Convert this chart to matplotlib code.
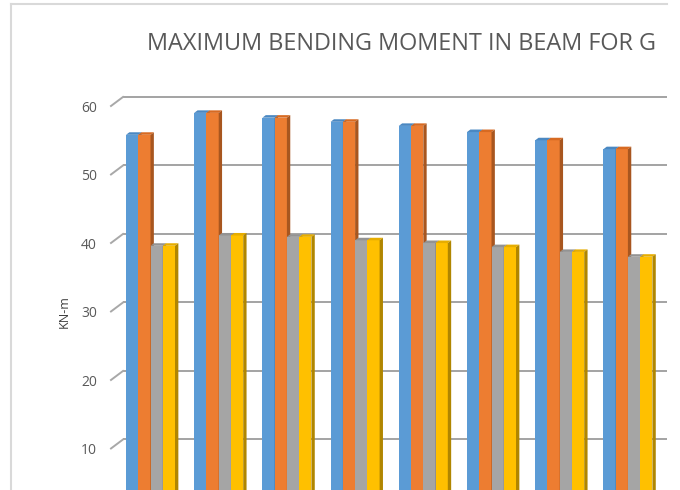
import matplotlib
matplotlib.use("Agg")
import matplotlib.pyplot as plt
import numpy as np
from matplotlib.patches import Polygon
from matplotlib.lines import Line2D

# values (KN-m), 8 visible groups, 4 series
groups = np.arange(8)
series_a = [55.3, 58.5, 57.8, 57.2, 56.6, 55.7, 54.5, 53.2]
series_b = [55.3, 58.5, 57.8, 57.2, 56.6, 55.7, 54.5, 53.2]
series_c = [39.1, 40.6, 40.4, 39.9, 39.5, 38.9, 38.2, 37.5]
series_d = [39.1, 40.6, 40.4, 39.9, 39.5, 38.9, 38.2, 37.5]
y_ticks = [10, 20, 30, 40, 50, 60]

title = "MAXIMUM BENDING MOMENT IN BEAM FOR G"
y_label = "KN-m"

# face colours: front, top, side
colors = [
    ("#5b9bd5", "#4a88c2", "#3d6f9e"),
    ("#ed7d31", "#d76a22", "#a8561f"),
    ("#a5a5a5", "#939393", "#777777"),
    ("#ffc000", "#e6ad00", "#b08600"),
]

W, H = 680, 490
GPX = 68.2          # pixels per group
X0 = 150.5          # pixel x of first group centre
VPX = 6.85          # pixels per unit of value
Y60 = 102.6         # pixel y (from top) of value 60 on bar fronts
DX = 12 / GPX       # full depth of the plot, in data units
DY = 9 / VPX
BAR_D = 0.28        # depth of a bar as a fraction of full depth
BAR_POS = 0.375     # depth of bar fronts
w = 12.25 / GPX

fig = plt.figure(figsize=(W / 100, H / 100), dpi=100)
ax = fig.add_axes([0, 0, 1, 1])
ax.set_xlim(-X0 / GPX, (W - X0) / GPX)
y_bot = 60 - (H - Y60) / VPX
ax.set_ylim(y_bot, 60 + Y60 / VPX)
ax.axis("off")

wall_left = (123 - X0) / GPX
right_end = (667 - X0) / GPX
back = 1 - BAR_POS
front = -BAR_POS

# back wall gridlines + side wall lines
for v in y_ticks:
    ax.plot([wall_left, right_end], [v + back * DY] * 2, color="#a3a3a3",
            lw=1.4, zorder=1, solid_capstyle="butt")
    ax.plot([wall_left - DX, wall_left], [v + front * DY, v + back * DY],
            color="#a8a8a8", lw=1.4, zorder=1)
    ax.text((97 - X0) / GPX, v + front * DY - 0.35, str(v), ha="right",
            va="center", fontsize=10, color="#595959", family="Open Sans")

ax.text((64 - X0) / GPX, 60 - (312 - Y60) / VPX, y_label, rotation=90,
        ha="center", va="center", fontsize=9, color="#404040",
        family="Open Sans")

# 3d-ish columns
all_series = [series_a, series_b, series_c, series_d]
ddx, ddy = BAR_D * DX, BAR_D * DY
z = 2
for g in groups:
    for k, vals in enumerate(all_series):
        x = g + (k - 2) * w
        v = vals[g]
        fc, tc, sc = colors[k]
        ax.add_patch(Polygon([(x, 0), (x + w, 0), (x + w, v), (x, v)],
                             closed=True, fc=fc, ec="none", zorder=z))
        ax.add_patch(Polygon([(x, v), (x + w, v), (x + w + ddx, v + ddy),
                              (x + ddx, v + ddy)],
                             closed=True, fc=tc, ec="none", zorder=z))
        ax.add_patch(Polygon([(x + w, 0), (x + w + ddx, ddy),
                              (x + w + ddx, v + ddy), (x + w, v)],
                             closed=True, fc=sc, ec="none", zorder=z))
        z += 1

# chart border (cropped: only left and top visible)
fig.add_artist(Line2D([10.5 / W, 10.5 / W], [0, 1 - 4.5 / H],
                      color="#d9d9d9", lw=1.5))
fig.add_artist(Line2D([10.5 / W, 667 / W], [1 - 4.5 / H, 1 - 4.5 / H],
                      color="#d9d9d9", lw=1.5))

t = fig.text(147 / W, 1 - 43.5 / H, title, ha="left", va="center",
             fontsize=14, color="#595959", family="Open Sans")
fig.canvas.draw()
bb = t.get_window_extent()
t.set_fontsize(14 * 513 / bb.width)

fig.savefig("out.png", dpi=100, facecolor="white")
